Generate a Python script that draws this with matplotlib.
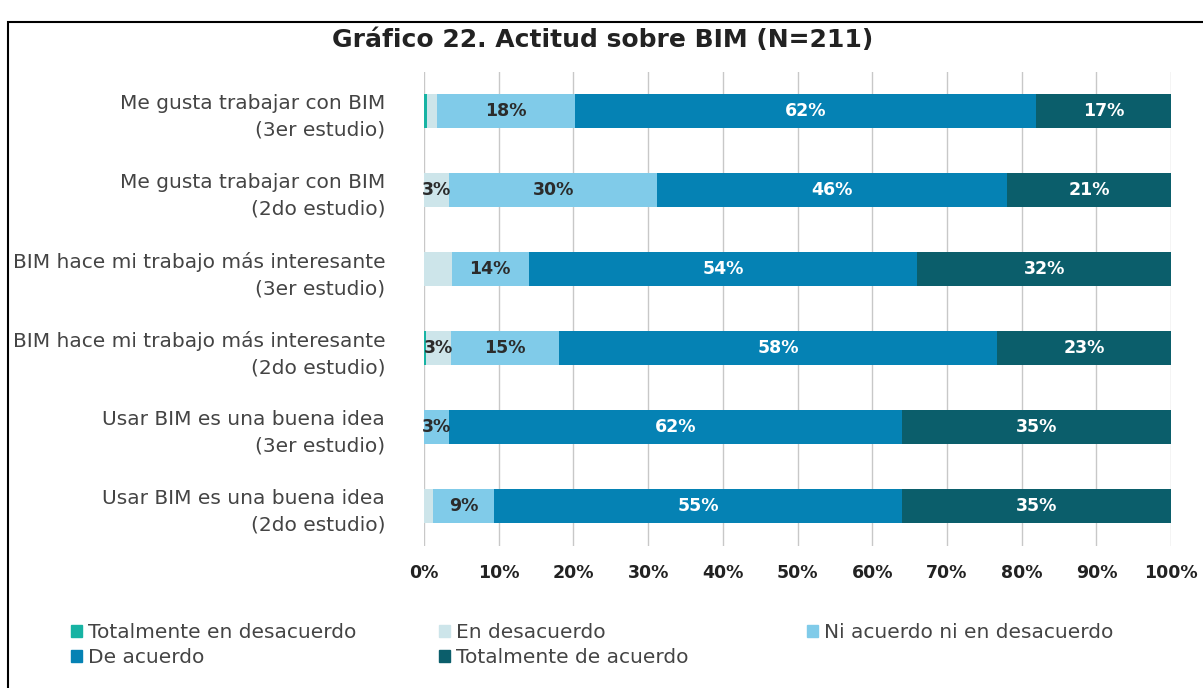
import matplotlib
matplotlib.use('Agg')
import matplotlib.pyplot as plt
from matplotlib.patches import Rectangle, Patch
import numpy as np

categorias = ['Me gusta trabajar con BIM\n(3er estudio)',
              'Me gusta trabajar con BIM\n(2do estudio)',
              'BIM hace mi trabajo más interesante\n(3er estudio)',
              'BIM hace mi trabajo más interesante\n(2do estudio)',
              'Usar BIM es una buena idea\n(3er estudio)',
              'Usar BIM es una buena idea\n(2do estudio)']

series = ['Totalmente en desacuerdo', 'En desacuerdo', 'Ni acuerdo ni en desacuerdo',
          'De acuerdo', 'Totalmente de acuerdo']

# valores (ancho de cada tramo, %)
tot_desacuerdo = [0.4, 0, 0, 0.3, 0, 0]
desacuerdo = [1.3, 3.4, 3.7, 3.3, 0, 1.2]
ni_ni = [18.5, 27.8, 10.3, 14.5, 3.4, 8.2]
de_acuerdo = [61.7, 46.8, 52.0, 58.6, 60.6, 54.6]
tot_acuerdo = [18.1, 22.0, 34.0, 23.3, 36.0, 36.0]

# etiquetas tal como aparecen en el grafico
lab_tot_desacuerdo = ['', '', '', '', '', '']
lab_desacuerdo = ['', '3%', '', '3%', '', '']
lab_ni_ni = ['18%', '30%', '14%', '15%', '3%', '9%']
lab_de_acuerdo = ['62%', '46%', '54%', '58%', '62%', '55%']
lab_tot_acuerdo = ['17%', '21%', '32%', '23%', '35%', '35%']

colores = ['#17b3a3', '#cde5ea', '#80cbe9', '#0582b4', '#0b5e6b']
col_texto = ['#2b2b2b', '#2b2b2b', '#2b2b2b', 'white', 'white']

valores = [tot_desacuerdo, desacuerdo, ni_ni, de_acuerdo, tot_acuerdo]
etiquetas = [lab_tot_desacuerdo, lab_desacuerdo, lab_ni_ni, lab_de_acuerdo, lab_tot_acuerdo]

fig = plt.figure(figsize=(12.03, 6.88), dpi=100)
ax = fig.add_axes([0.3525, 0.207, 0.621, 0.689])

y = np.arange(len(categorias))
izq = np.zeros(len(categorias))
for vals, labs, c, tc in zip(valores, etiquetas, colores, col_texto):
    vals = np.array(vals)
    ax.barh(y, vals, left=izq, height=0.43, color=c, zorder=3)
    for i in range(len(y)):
        if labs[i]:
            ax.text(izq[i] + vals[i] / 2, y[i], labs[i], ha='center', va='center',
                    color=tc, fontsize=12.5, fontweight='bold', zorder=4)
    izq = izq + vals

ax.set_xlim(0, 100)
ax.set_ylim(5.5, -0.5)
ax.set_xticks(np.arange(0, 101, 10))
ax.set_xticklabels([f'{v}%' for v in range(0, 101, 10)], fontsize=12.5,
                   fontweight='bold', color='#222222')
ax.set_yticks(y)
ax.set_yticklabels(categorias, fontsize=14.5, color='#444444', linespacing=1.5)
ax.tick_params(axis='both', length=0)
ax.tick_params(axis='x', pad=13)
ax.tick_params(axis='y', pad=28)
ax.grid(axis='x', color='#c8c8c8', linewidth=1, zorder=0)
for s in ax.spines.values():
    s.set_visible(False)

fig.text(0.501, 0.942, 'Gráfico 22. Actitud sobre BIM (N=211)', ha='center', va='center',
         fontsize=18, fontweight='bold', color='#222222')

# marco
fig.patches.append(Rectangle((8 / 1203, -0.1), 1.1, 0.1 + 1 - 22 / 688, transform=fig.transFigure,
                             fill=False, edgecolor='black', linewidth=1.5))

handles = [Patch(color=c) for c in colores]
columnas = [([0, 3], 0.052), ([1, 4], 0.358), ([2], 0.664)]
for idx, x0 in columnas:
    leg = fig.legend([handles[i] for i in idx], [series[i] for i in idx],
                     loc='upper left', bbox_to_anchor=(x0, 0.106), frameon=False,
                     fontsize=14.5, handlelength=0.55, handleheight=0.55,
                     handletextpad=0.3, labelspacing=0.3, borderaxespad=0)
    for t in leg.get_texts():
        t.set_color('#444444')

fig.savefig('out.png', dpi=100)
